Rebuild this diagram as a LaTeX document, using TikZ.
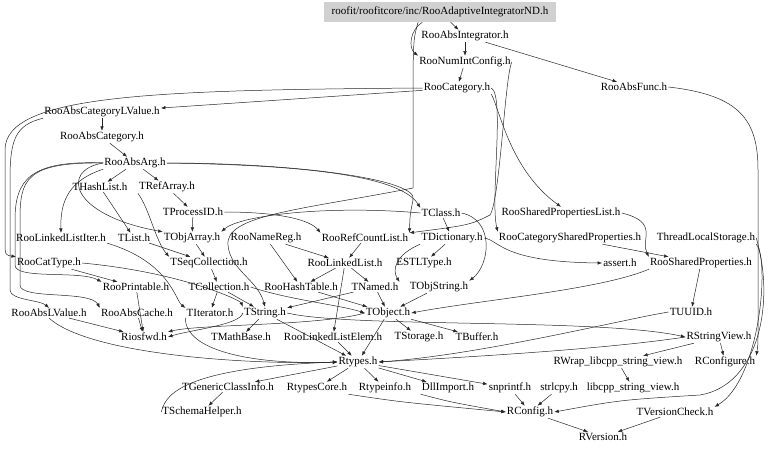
\documentclass[tikz,border=0pt]{standalone}
\usepackage{fontspec}
\setmainfont{Liberation Serif}
\usetikzlibrary{arrows.meta}

\begin{document}
\begin{tikzpicture}[x=1pt, y=-1pt,
    hdr/.style={inner sep=1pt, font=\fontsize{11}{13}\selectfont},
    rootbox/.style={hdr, fill=black!18, minimum width=232pt, minimum height=20pt},
    dep/.style={-{Latex[length=4.5pt,width=3.5pt]}, line width=0.5pt, black!85}]
  \useasboundingbox (0,0) rectangle (768,450);

  % headers, row by row
  \node (root) at (440, 12) [rootbox] {roofit/roofitcore/inc/RooAdaptiveIntegratorND.h};
  \node (absint) at (465, 36) [hdr] {RooAbsIntegrator.h};
  \node (numint) at (465, 62) [hdr] {RooNumIntConfig.h};
  \node (absfunc) at (634, 87) [hdr] {RooAbsFunc.h};
  \node (cat) at (457, 88) [hdr] {RooCategory.h};
  \node (catlv) at (102, 112) [hdr] {RooAbsCategoryLValue.h};
  \node (abscat) at (102, 137) [hdr] {RooAbsCategory.h};
  \node (absarg) at (135, 163) [hdr] {RooAbsArg.h};
  \node (hashlist) at (100, 187) [hdr] {THashList.h};
  \node (refarray) at (167, 187) [hdr] {TRefArray.h};
  \node (procid) at (193, 212) [hdr] {TProcessID.h};
  \node (tclass) at (441, 213) [hdr] {TClass.h};
  \node (splist) at (561, 213) [hdr] {RooSharedPropertiesList.h};
  \node (lliter) at (61, 238) [hdr] {RooLinkedListIter.h};
  \node (tlist) at (134, 238) [hdr] {TList.h};
  \node (objarray) at (192, 238) [hdr] {TObjArray.h};
  \node (namereg) at (266, 238) [hdr] {RooNameReg.h};
  \node (refcnt) at (365, 238) [hdr] {RooRefCountList.h};
  \node (dict) at (452, 238) [hdr] {TDictionary.h};
  \node (catsp) at (570, 238) [hdr] {RooCategorySharedProperties.h};
  \node (tls) at (706, 238) [hdr] {ThreadLocalStorage.h};
  \node (cattype) at (49, 263) [hdr] {RooCatType.h};
  \node (seqcoll) at (209, 263) [hdr] {TSeqCollection.h};
  \node (llist) at (345, 263) [hdr] {RooLinkedList.h};
  \node (estl) at (424, 263) [hdr] {ESTLType.h};
  \node (assert) at (620, 263) [hdr] {assert.h};
  \node (sprop) at (701, 263) [hdr] {RooSharedProperties.h};
  \node (printable) at (136, 287) [hdr] {RooPrintable.h};
  \node (coll) at (219, 287) [hdr] {TCollection.h};
  \node (hashtab) at (301, 287) [hdr] {RooHashTable.h};
  \node (named) at (375, 287) [hdr] {TNamed.h};
  \node (objstr) at (439, 287) [hdr] {TObjString.h};
  \node (abslv) at (49, 313) [hdr] {RooAbsLValue.h};
  \node (cache) at (137, 313) [hdr] {RooAbsCache.h};
  \node (iter) at (210, 313) [hdr] {TIterator.h};
  \node (tstring) at (265, 313) [hdr] {TString.h};
  \node (tobject) at (388, 313) [hdr] {TObject.h};
  \node (uuid) at (691, 312) [hdr] {TUUID.h};
  \node (riosfwd) at (144, 337) [hdr] {Riosfwd.h};
  \node (mathbase) at (241, 337) [hdr] {TMathBase.h};
  \node (llelem) at (333, 337) [hdr] {RooLinkedListElem.h};
  \node (storage) at (419, 337) [hdr] {TStorage.h};
  \node (buffer) at (477, 337) [hdr] {TBuffer.h};
  \node (strview) at (719, 337) [hdr] {RStringView.h};
  \node (rtypes) at (358, 362) [hdr] {Rtypes.h};
  \node (wrap) at (618, 362) [hdr] {RWrap\_libcpp\_string\_view.h};
  \node (rconfigure) at (725, 362) [hdr] {RConfigure.h};
  \node (gci) at (228, 387) [hdr] {TGenericClassInfo.h};
  \node (rtcore) at (317, 388) [hdr] {RtypesCore.h};
  \node (rtinfo) at (385, 388) [hdr] {Rtypeinfo.h};
  \node (dllimp) at (448, 388) [hdr] {DllImport.h};
  \node (snprintf) at (510, 388) [hdr] {snprintf.h};
  \node (strlcpy) at (559, 388) [hdr] {strlcpy.h};
  \node (libcpp) at (633, 388) [hdr] {libcpp\_string\_view.h};
  \node (schema) at (202, 412) [hdr] {TSchemaHelper.h};
  \node (rconfig) at (530, 412) [hdr] {RConfig.h};
  \node (vcheck) at (675, 412) [hdr] {TVersionCheck.h};
  \node (rversion) at (603, 437) [hdr] {RVersion.h};

  % short includes
  \draw[dep] (root) -- (absint);
  \draw[dep] (absint) -- (numint);
  \draw[dep] (absint) -- (absfunc);
  \draw[dep] (numint) -- (cat);
  \draw[dep] (cat) -- (catlv);
  \draw[dep] (catlv) -- (abscat);
  \draw[dep] (abscat) -- (absarg);
  \draw[dep] (absarg) -- (hashlist);
  \draw[dep] (absarg) -- (refarray);
  \draw[dep] (hashlist) -- (tlist);
  \draw[dep] (refarray) -- (procid);
  \draw[dep] (procid) -- (objarray);
  \draw[dep] (tlist) -- (seqcoll);
  \draw[dep] (objarray) -- (seqcoll);
  \draw[dep] (seqcoll) -- (coll);
  \draw[dep] (coll) -- (iter);
  \draw[dep] (coll) -- (tstring);
  \draw[dep] (cattype) -- (printable);
  \draw[dep] (printable) -- (riosfwd);
  \draw[dep] (cache) -- (riosfwd);
  \draw[dep] (abslv) -- (riosfwd);
  \draw[dep] (namereg) -- (llist);
  \draw[dep] (namereg) -- (hashtab);
  \draw[dep] (refcnt) -- (llist);
  \draw[dep] (llist) -- (hashtab);
  \draw[dep] (llist) -- (named);
  \draw[dep] (llist) -- (llelem);
  \draw[dep] (dict) -- (estl);
  \draw[dep] (tclass) -- (dict);
  \draw[dep] (named) -- (tobject);
  \draw[dep] (named) -- (tstring);
  \draw[dep] (objstr) -- (tobject);
  \draw[dep] (hashtab) -- (tobject);
  \draw[dep] (tobject) -- (storage);
  \draw[dep] (tobject) -- (buffer);
  \draw[dep] (tobject) -- (rtypes);
  \draw[dep] (tstring) -- (mathbase);
  \draw[dep] (tstring) -- (rtypes);
  \draw[dep] (llelem) -- (rtypes);
  \draw[dep] (rtypes) -- (gci);
  \draw[dep] (rtypes) -- (rtcore);
  \draw[dep] (rtypes) -- (rtinfo);
  \draw[dep] (rtypes) -- (dllimp);
  \draw[dep] (rtypes) -- (snprintf);
  \draw[dep] (gci) -- (schema);
  \draw[dep] (snprintf) -- (rconfig);
  \draw[dep] (strlcpy) -- (rconfig);
  \draw[dep] (rconfig) -- (rversion);
  \draw[dep] (vcheck) -- (rversion);
  \draw[dep] (strview) -- (wrap);
  \draw[dep] (strview) -- (rconfigure);
  \draw[dep] (wrap) -- (libcpp);
  \draw[dep] (sprop) -- (uuid);
  \draw[dep] (catsp) -- (sprop);

  % long includes
  \draw[dep] (root.210) .. controls (410,30) and (408,48) .. (numint.north west);
  \draw[dep] (root.205) .. controls (413,40) .. (413,120) -- (413,188) .. controls (300,210) and (225,215) .. (228,245) .. controls (230,270) and (258,280) .. (tstring.north);
  \draw[dep] (numint.east) .. controls (505,75) and (500,200) .. (490,215) .. controls (470,225) .. (refcnt.north east);
  \draw[dep] (cat.south east) .. controls (500,110) and (510,170) .. (splist.north);
  \draw[dep] (cat.east) .. controls (505,95) and (490,200) .. (catsp.north west);
  \draw[dep] (splist.east) .. controls (660,222) and (640,240) .. (sprop.north west);
  \draw[dep] (absarg.east) .. controls (300,165) and (400,175) .. (tclass.north west);
  \draw[dep] (absarg.east) .. controls (300,163) and (420,180) .. (413,200) .. controls (410,215) .. (refcnt.north east);
  \draw[dep] (absarg.south west) .. controls (70,180) and (60,200) .. (lliter.north);
  \draw[dep] (absarg.west) .. controls (60,170) and (70,215) .. (objarray.north west);
  \draw[dep] (refarray.south west) .. controls (150,210) and (155,240) .. (seqcoll.north west);
  \draw[dep] (procid.east) .. controls (280,212) and (310,220) .. (refcnt.north west);
  \draw[dep] (tclass.west) .. controls (330,205) and (240,215) .. (objarray.north east);
  \draw[dep] (tclass.east) .. controls (495,220) and (490,265) .. (objstr.north east);
  \draw[dep] (dict.south west) .. controls (395,255) and (392,270) .. (named.north east);
  \draw[dep] (dict.east) .. controls (500,240) and (500,262) .. (assert.west);
  \draw[dep] (coll.east) .. controls (290,300) and (340,305) .. (tobject.west);
  \draw[dep] (cat.west) .. controls (150,90) and (5,95) .. (5,150) -- (5,240) .. controls (5,255) .. (cattype.north west);
  \draw[dep] (catlv.south west) .. controls (15,125) and (10,140) .. (10,180) -- (10,290) .. controls (10,300) and (40,300) .. (abslv.north);
  \draw[dep] (absarg.west) .. controls (30,160) and (15,180) .. (15,220) -- (15,265) .. controls (15,280) and (80,270) .. (printable.north west);
  \draw[dep] (absarg.west) .. controls (25,162) and (20,180) .. (20,220) -- (20,285) .. controls (20,300) and (90,290) .. (cache.north west);
  \draw[dep] (cattype.east) .. controls (180,272) and (240,300) .. (tstring.north west);
  \draw[dep] (lliter.south east) .. controls (170,262) and (175,300) .. (iter.north west);
  \draw[dep] (iter.south west) .. controls (185,350) and (250,365) .. (rtypes.west);
  \draw[dep] (tobject.west) .. controls (320,326) and (200,324) .. (riosfwd.north east);
  \draw[dep] (tstring.west) .. controls (240,325) and (190,330) .. (riosfwd.east);
  \draw[dep] (tstring.east) .. controls (350,328) and (600,318) .. (strview.west);
  \draw[dep] (abslv.south) .. controls (90,355) and (250,365) .. (rtypes.west);
  \draw[dep] (schema.west) .. controls (165,400) and (170,368) .. (rtypes.west);
  \draw[dep] (uuid.west) .. controls (620,320) and (480,355) .. (rtypes.east);
  \draw[dep] (sprop.south west) .. controls (600,290) and (480,300) .. (tobject.east);
  \draw[dep] (strview.west) .. controls (600,350) and (450,358) .. (rtypes.east);
  \draw[dep] (rtcore.south east) .. controls (400,402) .. (rconfig.west);
  \draw[dep] (dllimp.south west) .. controls (450,402) .. (rconfig.west);
  \draw[dep] (absfunc.east) .. controls (740,95) and (758,120) .. (758,170) -- (758,330) .. controls (758,345) .. (rconfigure.north east);
  \draw[dep] (tls.south east) .. controls (770,260) and (760,380) .. (vcheck.north east);
  \draw[dep] (tls.east) .. controls (775,300) and (760,385) .. (700,395) .. controls (620,400) .. (rconfig.east);
\end{tikzpicture}
\end{document}
